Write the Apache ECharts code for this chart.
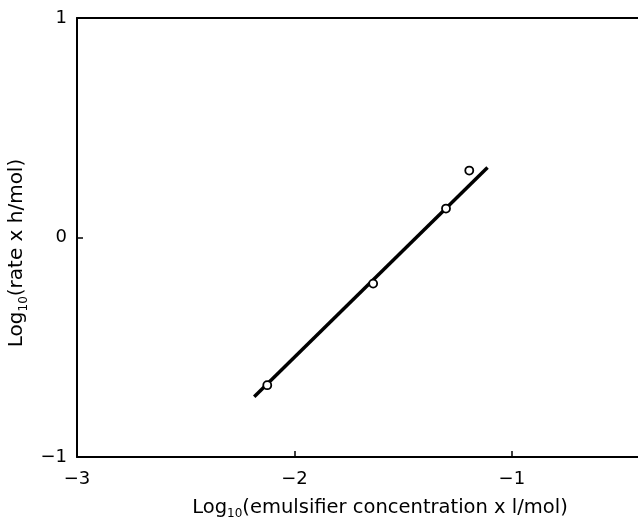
<!DOCTYPE html>
<html>
<head>
<meta charset="utf-8">
<script src="https://cdn.jsdelivr.net/npm/echarts@6/dist/echarts.min.js"></script>
<style>html,body{margin:0;padding:0;background:#fff}#c{width:638px;height:523px}</style>
</head>
<body>
<div id="c"></div>
<script>
// Measured points: log10(emulsifier concentration), log10(rate)
const pointX = [-2.125, -1.638, -1.303, -1.196];
const pointY = [-0.673, -0.210, 0.132, 0.305];
// Fitted straight line end points
const fitX = [-2.185, -1.112];
const fitY = [-0.726, 0.319];
const xTicks = [-3, -2, -1];
const yTicks = [-1, 0, 1];

const FONT = 'DejaVu Sans';
const fmt = v => String(v).replace('-', '\u2212');
const chart = echarts.init(document.getElementById('c'), null, {renderer: 'canvas'});
chart.setOption({
  animation: false,
  backgroundColor: '#fff',
  grid: {left: 77, right: 0, top: 18, bottom: 66, containLabel: false, outerBoundsMode: 'none'},
  xAxis: [{
    type: 'value', min: -3, max: -0.42, interval: 1,
    axisLine: {onZero: false, lineStyle: {color: '#000', width: 2}},
    axisTick: {inside: true, length: 6, lineStyle: {color: '#000', width: 1.5}},
    axisLabel: {color: '#000', fontFamily: FONT, fontSize: 18, margin: 13,
      showMaxLabel: false,
      formatter: v => xTicks.includes(v) ? fmt(v) : ''},
    splitLine: {show: false},
    name: '{a|Log}{s|10}{a|(emulsifier concentration x l/mol)}',
    nameLocation: 'middle', nameGap: 38,
    nameTextStyle: {padding: [0, 0, 0, 45], rich: {
      a: {fontFamily: FONT, fontSize: 19.5, color: '#000'},
      s: {fontFamily: FONT, fontSize: 12, color: '#000', padding: [13, 0, 0, 0]}
    }}
  }, {
    type: 'value', position: 'top', min: -3, max: -0.42,
    axisLine: {show: true, onZero: false, lineStyle: {color: '#000', width: 2}},
    axisTick: {show: false}, axisLabel: {show: false}, splitLine: {show: false}
  }],
  yAxis: {
    type: 'value', min: -1, max: 1, interval: 1,
    axisLine: {show: true, onZero: false, lineStyle: {color: '#000', width: 2}},
    axisTick: {inside: true, length: 6, lineStyle: {color: '#000', width: 1.5}},
    axisLabel: {color: '#000', fontFamily: FONT, fontSize: 18, margin: 10,
      formatter: v => yTicks.includes(v) ? fmt(v) : ''},
    splitLine: {show: false},
    name: '{a|Log}{s|10}{a|(rate x h/mol)}',
    nameLocation: 'middle', nameGap: 38, nameRotate: 90,
    nameTextStyle: {padding: [0, 31, 0, 0], rich: {
      a: {fontFamily: FONT, fontSize: 20, color: '#000'},
      s: {fontFamily: FONT, fontSize: 12, color: '#000', padding: [13, 0, 0, 0]}
    }}
  },
  series: [{
    type: 'line', data: fitX.map((x, i) => [x, fitY[i]]),
    showSymbol: false, lineStyle: {color: '#000', width: 3.5}, z: 2
  }, {
    type: 'scatter', data: pointX.map((x, i) => [x, pointY[i]]),
    symbol: 'circle', symbolSize: 8,
    itemStyle: {color: '#fff', borderColor: '#000', borderWidth: 1.8, opacity: 1}, z: 3
  }]
});
</script>
</body>
</html>
